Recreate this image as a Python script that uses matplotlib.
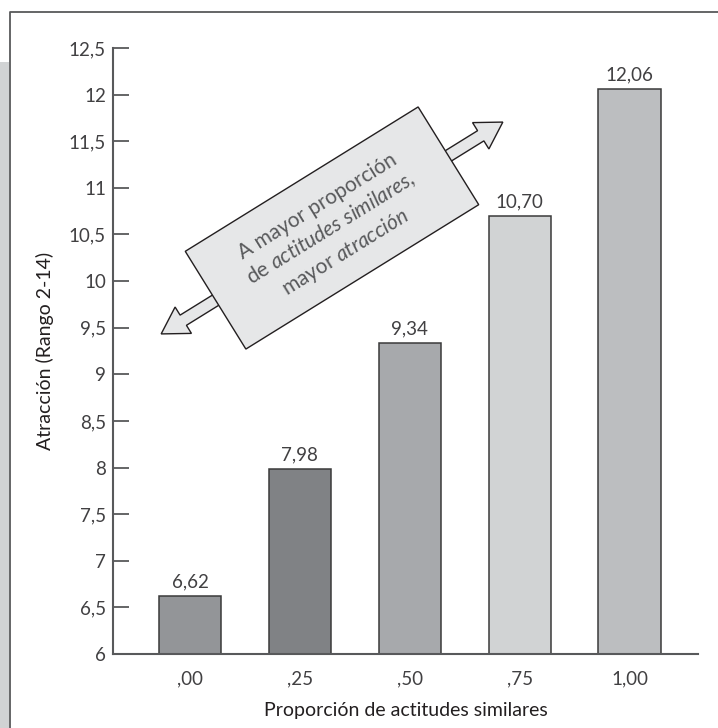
import math
import matplotlib
matplotlib.use("Agg")
import matplotlib.pyplot as plt
import matplotlib.patches as mpatches
from matplotlib.transforms import IdentityTransform

# data
categories = [",00", ",25", ",50", ",75", "1,00"]
values = [6.62, 7.98, 9.34, 10.70, 12.06]
bar_colors = ["#939598", "#808285", "#a7a9ac", "#d1d3d4", "#bcbec0"]
y_ticks = [6, 6.5, 7, 7.5, 8, 8.5, 9, 9.5, 10, 10.5, 11, 11.5, 12, 12.5]

W, H = 718, 728
ink = "#58595b"
txt = "#414042"

plt.rcParams["font.family"] = ["Lato", "DejaVu Sans"]
plt.rcParams["mathtext.fontset"] = "custom"
plt.rcParams["mathtext.rm"] = "Lato"
plt.rcParams["mathtext.it"] = "Lato:italic"

fig = plt.figure(figsize=(W / 100, H / 100), dpi=100)
ax = fig.add_axes([113 / W, (H - 654) / H, 585 / W, 606 / H])

x = range(len(values))
ax.bar(x, values, width=0.57, color=bar_colors, edgecolor="#3a3a3a", linewidth=1.1, zorder=2)

for i, v in enumerate(values):
    ax.text(i, v + 0.06, f"{v:.2f}".replace(".", ","), ha="center", va="bottom",
            fontsize=13.5, color=txt)

ax.set_xlim(-0.70, 4.62)
ax.set_ylim(6, 12.5)
ax.set_xticks(list(x))
ax.set_xticklabels(categories, fontsize=13.5, color=txt)
ax.set_yticks(y_ticks)
ax.set_yticklabels([f"{t:g}".replace(".", ",") for t in y_ticks], fontsize=13.5, color=txt)
ax.tick_params(axis="x", length=0, pad=12)
ax.tick_params(axis="y", direction="in", length=11.5, width=1.3, color=ink, pad=5)

for side in ["top", "right"]:
    ax.spines[side].set_visible(False)
for side in ["left", "bottom"]:
    ax.spines[side].set_color(ink)
    ax.spines[side].set_linewidth(1.5)

ax.set_xlabel("Proporción de actitudes similares", fontsize=14, color="#231f20", labelpad=10)
ax.set_ylabel("Atracción (Rango 2-14)", fontsize=14, color="#231f20", labelpad=11)


def px(xp, yp):
    # top-down pixel position -> display coordinates
    return xp, H - yp


ident = IdentityTransform()

# page frame and grey side strip
fig.add_artist(mpatches.Rectangle((0, 0), 8.5 / W, (H - 62) / H, transform=fig.transFigure,
                                  facecolor="#d1d3d4", edgecolor="none"))
fig.add_artist(plt.Line2D([9.5 / W, 9.5 / W, 1.0], [0, (H - 12) / H, (H - 12) / H],
                          transform=fig.transFigure, color=ink, linewidth=1.3))

# annotation: rotated box with double arrow
cx, cy = px(332, 228)
angle = 31.8
half = 201
dx = half * math.cos(math.radians(angle))
dy = half * math.sin(math.radians(angle))
for sgn in (1, -1):
    fig.add_artist(mpatches.FancyArrow(cx, cy, sgn * dx, sgn * dy, width=12, head_width=31,
                                       head_length=26, length_includes_head=True,
                                       transform=ident, facecolor="#e6e7e8",
                                       edgecolor="#231f20", linewidth=1.0, zorder=5))
bw, bh = 274, 115
fig.add_artist(mpatches.Rectangle((cx - bw / 2, cy - bh / 2), bw, bh, angle=angle,
                                  rotation_point="center", transform=ident,
                                  facecolor="#e6e7e8", edgecolor="#231f20",
                                  linewidth=1.0, zorder=6))
box_text = ("A mayor proporción\n"
            r"de $\mathit{actitudes\ similares,}$" "\n"
            r"mayor $\mathit{atracción}$")
fig.text(cx, cy - 2, box_text, transform=ident, rotation=angle, rotation_mode="anchor",
         ha="center", va="center", multialignment="center", fontsize=15,
         color=ink, linespacing=1.25, zorder=7)

fig.savefig("out.png", dpi=100)
